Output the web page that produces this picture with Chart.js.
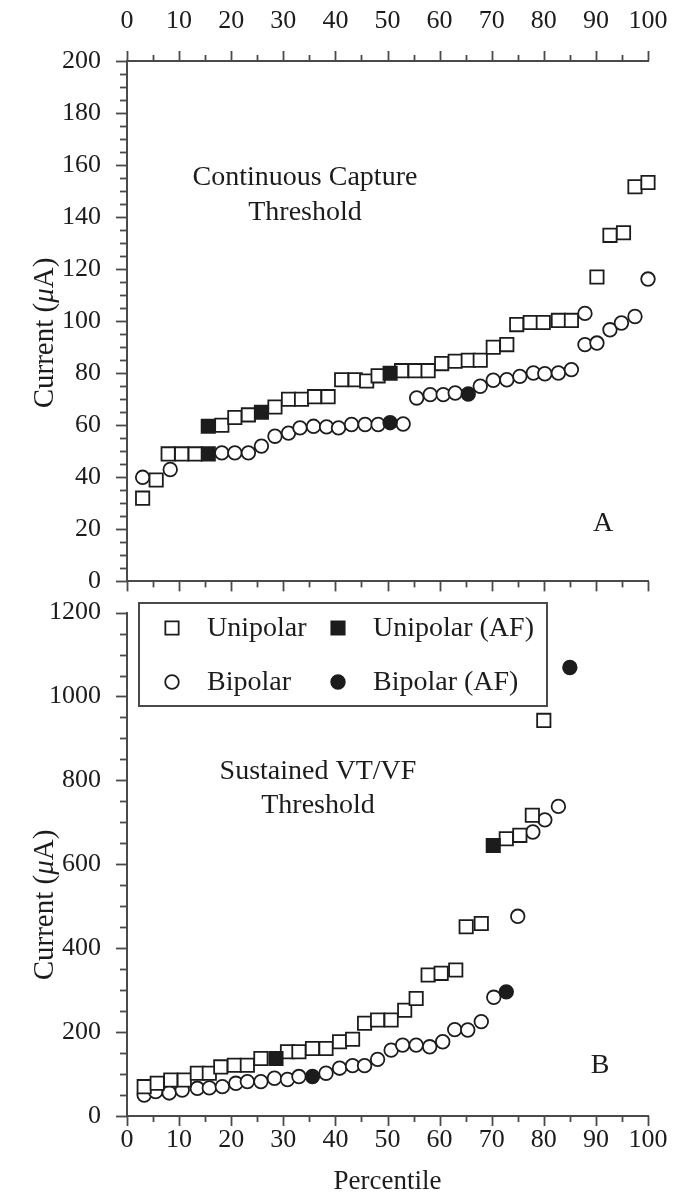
<!DOCTYPE html>
<html>
<head>
<meta charset="utf-8">
<script src="https://cdn.jsdelivr.net/npm/chart.js@4.4.1/dist/chart.umd.min.js"></script>
<style>
  html, body { margin: 0; padding: 0; background: #fff; }
  #wrap { position: relative; width: 679px; height: 1195px; overflow: hidden; }
  canvas { position: absolute; left: 0; }
  #cTop { top: 0; }
  #cBot { top: 597px; }
</style>
</head>
<body>
<div id="wrap">
  <canvas id="cTop" width="679" height="597"></canvas>
  <canvas id="cBot" width="679" height="598"></canvas>
</div>
<script>
// ---------- Panel A: Continuous Capture Threshold ----------
const aUniX   = [3.0, 5.6, 7.9, 10.5, 13.1, 18.2, 20.7, 23.3, 28.4, 31.0, 33.5, 36.0, 38.6, 41.2, 43.8, 46.0, 48.2, 52.7, 55.3, 57.8, 60.4, 63.0, 65.5, 67.8, 70.3, 72.9, 74.8, 77.4, 79.9, 82.8, 85.3, 90.2, 92.7, 95.3, 97.5, 100];
const aUniY   = [32, 39, 49, 49, 49, 60, 63, 64, 67, 70, 70, 71, 71, 77.5, 77.5, 77, 79, 81, 81, 81, 83.7, 84.6, 85, 85, 90, 91, 98.7, 99.5, 99.5, 100.3, 100.3, 117, 133, 134, 151.7, 153.3];
const aUniAfX = [15.6, 15.6, 25.8, 50.5];
const aUniAfY = [49, 59.6, 65, 80];
const aBiX    = [3.0, 8.3, 18.2, 20.7, 23.3, 25.8, 28.4, 31.0, 33.2, 35.8, 38.3, 40.6, 43.1, 45.7, 48.2, 53.0, 55.6, 58.2, 60.7, 63.0, 67.8, 70.3, 72.9, 75.4, 78.0, 80.2, 82.8, 85.3, 87.9, 87.9, 90.2, 92.7, 94.9, 97.5, 100];
const aBiY    = [40, 43, 49.4, 49.4, 49.4, 52, 55.8, 57, 59, 59.6, 59.4, 59, 60.3, 60.3, 60.3, 60.5, 70.5, 71.8, 71.8, 72.4, 75, 77.3, 77.5, 78.8, 80.1, 79.8, 80.1, 81.4, 103, 91, 91.6, 96.7, 99.3, 101.8, 116.2];
const aBiAfX  = [50.5, 65.5];
const aBiAfY  = [61, 72];

// ---------- Panel B: Sustained VT/VF Threshold ----------
const bUniX   = [3.3, 5.8, 8.4, 11.0, 13.5, 15.8, 18.0, 20.6, 23.1, 25.7, 30.8, 33.0, 35.6, 38.2, 40.8, 43.3, 45.6, 48.1, 50.7, 53.3, 55.5, 57.8, 60.3, 63.1, 65.1, 68.0, 72.8, 75.4, 77.8, 80.0];
const bUniY   = [70, 78, 86, 86, 102, 102, 117, 121, 121, 137, 153, 153, 161, 161, 177, 183, 221, 229, 229, 252, 280, 336, 340, 348, 451, 459, 661, 669, 717, 943];
const bUniAfX = [28.6, 70.3];
const bUniAfY = [137, 645];
const bBiX    = [3.3, 5.5, 8.1, 10.6, 13.5, 15.8, 18.3, 20.9, 23.1, 25.7, 28.3, 30.8, 33.0, 38.2, 40.8, 43.3, 45.6, 48.1, 50.7, 52.9, 55.5, 58.1, 60.6, 62.9, 65.4, 68.0, 70.4, 75.0, 77.9, 80.2, 82.8];
const bBiY    = [50, 58, 55, 62, 66, 67, 70, 78, 82, 82, 90, 87, 94, 102, 114, 120, 120, 135, 157, 169, 169, 165, 177, 206, 205, 225, 283, 476, 677, 706, 738];
const bBiAfX  = [35.6, 72.8, 85.0];
const bBiAfY  = [94, 296, 1069];

// ---------- Axis / legend text ----------
const xTickStep = 5, xLabelStep = 10;
const aYStep = 5, aYLabelStep = 20, aYMax = 200;
const bYStep = 50, bYLabelStep = 200, bYMax = 1200;
const legendLabels = ['Unipolar', 'Unipolar (AF)', 'Bipolar', 'Bipolar (AF)'];

const FONT = '"Liberation Serif", "Times New Roman", serif';
const INK = '#1c1c1c';
const AXIS = '#4a4a4a';
const SQ_R = 9.4, CI_R = 6.8;

function pts(xs, ys) { return xs.map((x, i) => ({ x: x, y: ys[i] })); }

function sets(uX, uY, uaX, uaY, bX, bY, baX, baY) {
  const base = { borderColor: INK, borderWidth: 1.8, clip: false, showLine: false };
  // first dataset is drawn on top
  return [
    Object.assign({}, base, { label: 'Unipolar (AF)', data: pts(uaX, uaY), pointStyle: 'rect', pointRadius: SQ_R, backgroundColor: INK }),
    Object.assign({}, base, { label: 'Unipolar', data: pts(uX, uY), pointStyle: 'rect', pointRadius: SQ_R, backgroundColor: '#fff' }),
    Object.assign({}, base, { label: 'Bipolar (AF)', data: pts(baX, baY), pointStyle: 'circle', pointRadius: CI_R, backgroundColor: INK }),
    Object.assign({}, base, { label: 'Bipolar', data: pts(bX, bY), pointStyle: 'circle', pointRadius: CI_R, backgroundColor: '#fff' })
  ];
}

// Tick marks (major / minor) drawn from the library's scales
const tickSpec = {
  cTop: { x2: { major: xLabelStep, len: [10, 6] }, x: { major: xLabelStep, len: [10, 6] }, y: { major: aYLabelStep, len: [11, 7] } },
  cBot: { x: { major: xLabelStep, len: [10, 6] }, y: { major: bYLabelStep, len: [11, 7] } }
};
const tickPlugin = {
  id: 'tickMarks',
  afterDraw(chart) {
    const spec = tickSpec[chart.canvas.id];
    const ctx = chart.ctx;
    ctx.save();
    ctx.strokeStyle = AXIS;
    ctx.lineWidth = 1.8;
    for (const id in spec) {
      const s = chart.scales[id];
      const o = spec[id];
      s.ticks.forEach(t => {
        const r = t.value / o.major;
        const major = Math.abs(r - Math.round(r)) < 1e-6;
        const len = major ? o.len[0] : o.len[1];
        const p = Math.round(s.getPixelForValue(t.value)) + 0.5;
        ctx.beginPath();
        if (s.position === 'left') { ctx.moveTo(s.right, p); ctx.lineTo(s.right - len, p); }
        else if (s.position === 'bottom') { ctx.moveTo(p, s.top); ctx.lineTo(p, s.top + len); }
        else if (s.position === 'top') { ctx.moveTo(p, s.bottom); ctx.lineTo(p, s.bottom - len); }
        ctx.stroke();
      });
    }
    ctx.restore();
  }
};

function yTitle(ctx, cx, cy) {
  ctx.save();
  ctx.translate(cx, cy);
  ctx.rotate(-Math.PI / 2);
  ctx.fillStyle = INK;
  ctx.textBaseline = 'middle';
  const f1 = '29px ' + FONT, f2 = 'italic 29px ' + FONT;
  const parts = [['Current (', f1], ['\u03bc', f2], ['A)', f1]];
  let w = 0;
  parts.forEach(p => { ctx.font = p[1]; w += ctx.measureText(p[0]).width; });
  let x = -w / 2;
  ctx.textAlign = 'left';
  parts.forEach(p => { ctx.font = p[1]; ctx.fillText(p[0], x, 0); x += ctx.measureText(p[0]).width; });
  ctx.restore();
}

function centerText(ctx, txt, x, y) {
  ctx.save();
  ctx.font = '28px ' + FONT;
  ctx.fillStyle = INK;
  ctx.textAlign = 'center';
  ctx.textBaseline = 'middle';
  ctx.fillText(txt, x, y);
  ctx.restore();
}

const textPlugin = {
  id: 'panelText',
  afterDraw(chart) {
    const ctx = chart.ctx;
    if (chart.canvas.id === 'cTop') {
      yTitle(ctx, 45, 333);
      centerText(ctx, 'Continuous Capture', 305, 178);
      centerText(ctx, 'Threshold', 305, 213);
      centerText(ctx, 'A', 603, 524);
    } else {
      yTitle(ctx, 45, 308);
      centerText(ctx, 'Sustained VT/VF', 318, 175);
      centerText(ctx, 'Threshold', 318, 209);
      centerText(ctx, 'B', 600, 469);
      // legend box
      ctx.save();
      ctx.strokeStyle = AXIS;
      ctx.lineWidth = 2;
      ctx.fillStyle = '#fff';
      ctx.fillRect(139, 6, 408, 103);
      ctx.strokeRect(139, 6, 408, 103);
      const rows = [31, 85], cols = [172, 338];
      const items = [[0, 0, 'rect', false], [0, 1, 'rect', true], [1, 0, 'circle', false], [1, 1, 'circle', true]];
      items.forEach((it, k) => {
        const x = cols[it[1]], y = rows[it[0]];
        ctx.strokeStyle = INK; ctx.lineWidth = 1.8;
        ctx.fillStyle = it[3] ? INK : '#fff';
        ctx.beginPath();
        const h = SQ_R * Math.SQRT1_2;
        if (it[2] === 'rect') ctx.rect(x - h, y - h, 2 * h, 2 * h);
        else ctx.arc(x, y, CI_R, 0, Math.PI * 2);
        ctx.fill(); ctx.stroke();
        ctx.font = '28px ' + FONT;
        ctx.fillStyle = INK;
        ctx.textAlign = 'left';
        ctx.textBaseline = 'middle';
        ctx.fillText(legendLabels[k], x + 35, y + 1);
      });
      ctx.restore();
    }
  }
};

const tickFont = { family: FONT, size: 26 };

function xLabel(v) { return (Math.abs(v % xLabelStep) < 1e-6) ? String(v) : ''; }

// invisible tick marks are used only as label offsets (grid.display=false)
new Chart(document.getElementById('cTop'), {
  type: 'scatter',
  data: { datasets: sets(aUniX, aUniY, aUniAfX, aUniAfY, aBiX, aBiY, aBiAfX, aBiAfY) },
  options: {
    responsive: false, animation: false, devicePixelRatio: 1,
    layout: { padding: { left: 0, right: 31, top: 0, bottom: 0 } },
    plugins: { legend: { display: false }, tooltip: { enabled: false } },
    scales: {
      x: {
        type: 'linear', position: 'bottom', min: 0, max: 100,
        ticks: { display: false, stepSize: xTickStep, autoSkip: false, padding: 0 },
        grid: { display: false, drawTicks: false },
        border: { display: true, color: AXIS, width: 2 },
        afterFit: s => { s.height = 15; }
      },
      x2: {
        type: 'linear', position: 'top', min: 0, max: 100,
        ticks: { stepSize: xTickStep, autoSkip: false, maxRotation: 0, font: tickFont, color: INK, padding: 0, callback: xLabel },
        grid: { display: false, drawTicks: true, tickLength: 24 },
        border: { display: true, color: AXIS, width: 2 },
        afterFit: s => { s.height = 61; }
      },
      y: {
        type: 'linear', position: 'left', min: 0, max: aYMax,
        ticks: { stepSize: aYStep, autoSkip: false, font: tickFont, color: INK, padding: 0,
                 callback: v => (v % aYLabelStep === 0 ? String(v) : '') },
        grid: { display: false, drawTicks: true, tickLength: 26 },
        border: { display: true, color: AXIS, width: 2 },
        afterFit: s => { s.width = 127; }
      }
    }
  },
  plugins: [tickPlugin, textPlugin]
});

new Chart(document.getElementById('cBot'), {
  type: 'scatter',
  data: { datasets: sets(bUniX, bUniY, bUniAfX, bUniAfY, bBiX, bBiY, bBiAfX, bBiAfY) },
  options: {
    responsive: false, animation: false, devicePixelRatio: 1,
    layout: { padding: { left: 0, right: 31, top: 15, bottom: 0 } },
    plugins: { legend: { display: false }, tooltip: { enabled: false } },
    scales: {
      x: {
        type: 'linear', position: 'bottom', min: 0, max: 100,
        ticks: { stepSize: xTickStep, autoSkip: false, maxRotation: 0, font: tickFont, color: INK, padding: 0, callback: xLabel },
        grid: { display: false, drawTicks: true, tickLength: 9 },
        border: { display: true, color: AXIS, width: 2 },
        title: { display: true, text: 'Percentile', font: { family: FONT, size: 27, lineHeight: 1.0 }, color: INK, padding: { top: 0, bottom: 0 } },
        afterFit: s => { s.height = 79; }
      },
      y: {
        type: 'linear', position: 'left', min: 0, max: bYMax,
        ticks: { stepSize: bYStep, autoSkip: false, font: tickFont, color: INK, padding: 0,
                 callback: v => (v % bYLabelStep === 0 ? String(v) : '') },
        grid: { display: false, drawTicks: true, tickLength: 26 },
        border: { display: true, color: AXIS, width: 2 },
        afterFit: s => { s.width = 127; }
      }
    }
  },
  plugins: [tickPlugin, textPlugin]
});
</script>
</body>
</html>
